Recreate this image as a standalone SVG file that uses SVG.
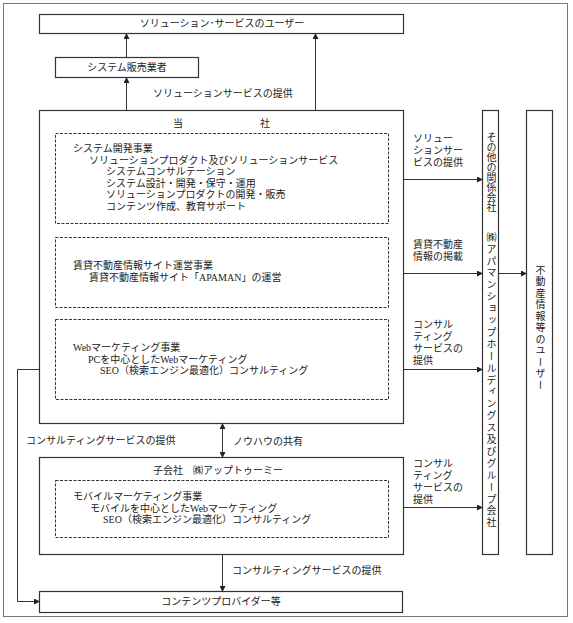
<svg xmlns="http://www.w3.org/2000/svg" width="573" height="623" viewBox="0 0 573 623">
<defs>
<marker id="ah" markerWidth="6" markerHeight="6" refX="5" refY="3" orient="auto" markerUnits="userSpaceOnUse">
<path d="M0,0 L6,3 L0,6 Z" fill="#222"/>
</marker>
<marker id="ahs" markerWidth="6" markerHeight="6" refX="1" refY="3" orient="auto" markerUnits="userSpaceOnUse">
<path d="M6,0 L0,3 L6,6 Z" fill="#222"/>
</marker>
<style>
text{font-family:"Liberation Serif","Noto Sans CJK JP",serif;font-size:10px;fill:#222}
.box{fill:#fff;stroke:#333;stroke-width:1.2}
.dbox{fill:none;stroke:#333;stroke-width:1;stroke-dasharray:3,1.5}
.frame{fill:#fff;stroke:#777;stroke-width:1}
.ln{fill:none;stroke:#333;stroke-width:1}
.mid{text-anchor:middle}
.v{writing-mode:tb;glyph-orientation-vertical:0}
</style>
</defs>
<rect class="frame" x="3.5" y="3.5" width="564" height="613"/>

<g id="users-solution">
<rect class="box" x="39.5" y="14.5" width="364" height="19"/>
<text class="mid" x="222" y="27">ソリューション･サービスのユーザー</text>
</g>
<g id="system-seller">
<rect class="box" x="55.5" y="57.5" width="143" height="20"/>
<text class="mid" x="127" y="71">システム販売業者</text>
</g>
<g id="company">
<rect class="box" x="39.5" y="110.5" width="364" height="313"/>
<text x="173" y="127">当</text>
<text x="260" y="127">社</text>
<g id="biz-system">
<rect class="dbox" x="55.5" y="133.5" width="333" height="90"/>
<text x="73" y="152">システム開発事業</text>
<text x="89" y="163.5">ソリューションプロダクト及びソリューションサービス</text>
<text x="106" y="175">システムコンサルテーション</text>
<text x="106" y="186.5">システム設計・開発・保守・運用</text>
<text x="106" y="198">ソリューションプロダクトの開発・販売</text>
<text x="106" y="209.5">コンテンツ作成、教育サポート</text>
</g>
<g id="biz-apaman">
<rect class="dbox" x="55.5" y="237.5" width="333" height="70"/>
<text x="73" y="269">賃貸不動産情報サイト運営事業</text>
<text x="89" y="281">賃貸不動産情報サイト「APAMAN」の運営</text>
</g>
<g id="biz-web">
<rect class="dbox" x="55.5" y="319.5" width="333" height="80"/>
<text x="73" y="351">Webマーケティング事業</text>
<text x="88" y="362.5">PCを中心としたWebマーケティング</text>
<text x="100" y="374">SEO（検索エンジン最適化）コンサルティング</text>
</g>
</g>
<g id="subsidiary">
<rect class="box" x="39.5" y="457.5" width="364" height="97"/>
<text class="mid" x="218" y="474">子会社　㈱アップトゥーミー</text>
<g id="biz-mobile">
<rect class="dbox" x="55.5" y="480.5" width="333" height="57"/>
<text x="73" y="500">モバイルマーケティング事業</text>
<text x="90" y="511.5">モバイルを中心としたWebマーケティング</text>
<text x="103" y="523">SEO（検索エンジン最適化）コンサルティング</text>
</g>
</g>
<g id="content-provider">
<rect class="box" x="39.5" y="591.5" width="363" height="21"/>
<text class="mid" x="221" y="605">コンテンツプロバイダー等</text>
</g>
<g id="group-companies">
<rect class="box" x="482.5" y="110.5" width="16" height="444"/>
<text class="v" x="490.5" y="132">その他の関係会社</text>
<text class="v" x="490.5" y="232" style="letter-spacing:1.9px">㈱アパマンショップホールディングス及びグループ会社</text>
</g>
<g id="realestate-users">
<rect class="box" x="526.5" y="110.5" width="26" height="444"/>
<text class="v" x="539.5" y="265" style="letter-spacing:1.5px">不動産情報等のユーザー</text>
</g>

<g id="connectors">
<line class="ln" x1="126.5" y1="110" x2="126.5" y2="78" marker-end="url(#ah)"/>
<line class="ln" x1="126.5" y1="57" x2="126.5" y2="34" marker-end="url(#ah)"/>
<line class="ln" x1="315.5" y1="110" x2="315.5" y2="34" marker-end="url(#ah)"/>
<line class="ln" x1="404" y1="179.5" x2="482" y2="179.5" marker-end="url(#ah)"/>
<line class="ln" x1="404" y1="273.5" x2="482" y2="273.5" marker-end="url(#ah)"/>
<line class="ln" x1="404" y1="369.5" x2="482" y2="369.5" marker-end="url(#ah)"/>
<line class="ln" x1="404" y1="507.5" x2="482" y2="507.5" marker-end="url(#ah)"/>
<line class="ln" x1="499" y1="273.5" x2="526" y2="273.5" marker-end="url(#ah)"/>
<line class="ln" x1="222.5" y1="424" x2="222.5" y2="457" marker-start="url(#ahs)" marker-end="url(#ah)"/>
<line class="ln" x1="222.5" y1="555" x2="222.5" y2="591" marker-end="url(#ah)"/>
<polyline class="ln" points="39,369.5 17.5,369.5 17.5,601.5 39,601.5" marker-end="url(#ah)"/>
</g>

<g id="labels">
<text x="153" y="97">ソリューションサービスの提供</text>
<text x="413" y="142">ソリュー</text>
<text x="413" y="154">ションサー</text>
<text x="413" y="166">ビスの提供</text>
<text x="413" y="248">賃貸不動産</text>
<text x="413" y="260">情報の掲載</text>
<text x="413" y="328">コンサル</text>
<text x="413" y="340">ティング</text>
<text x="413" y="352">サービスの</text>
<text x="413" y="364">提供</text>
<text x="413" y="467">コンサル</text>
<text x="413" y="479">ティング</text>
<text x="413" y="491">サービスの</text>
<text x="413" y="503">提供</text>
<text x="26" y="444">コンサルティングサービスの提供</text>
<text x="233" y="445">ノウハウの共有</text>
<text x="232" y="574">コンサルティングサービスの提供</text>
</g>
</svg>
